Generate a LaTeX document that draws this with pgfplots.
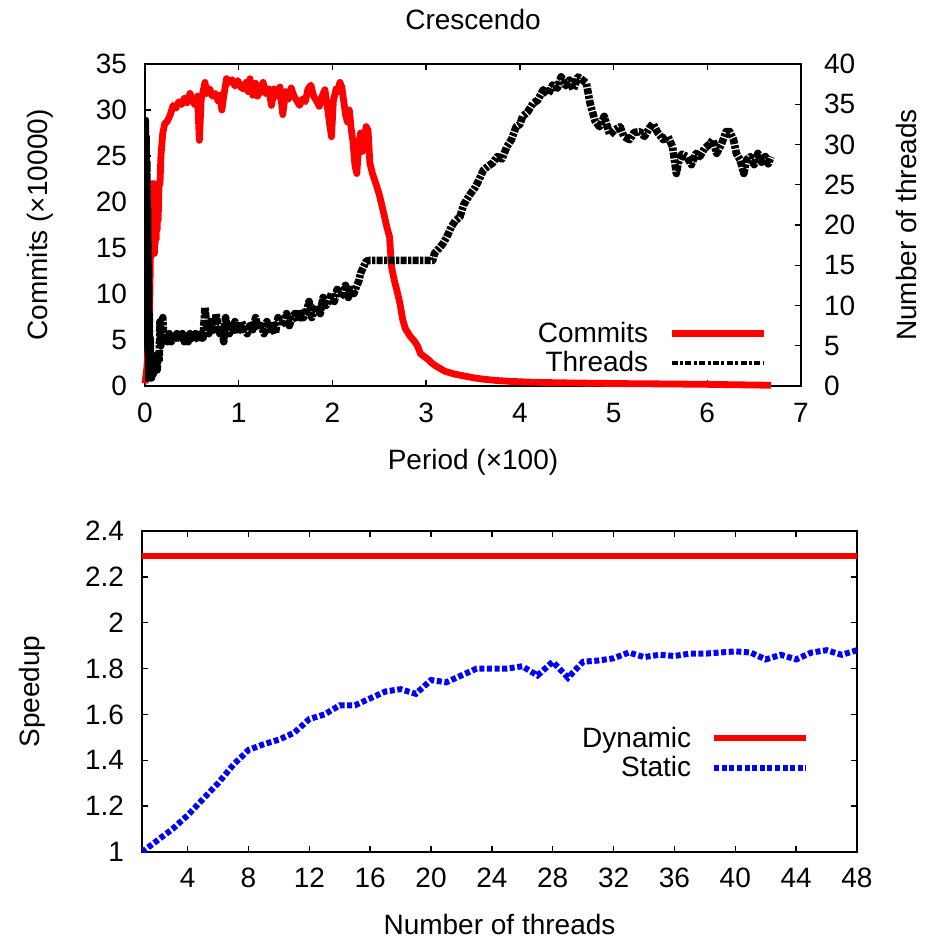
\documentclass[border=0pt]{standalone}
\usepackage{fontspec}
\setmainfont{Liberation Sans}
\usepackage{pgfplots}
\pgfplotsset{compat=1.18}

\pgfplotstableread{
x y
0.00 0.3
0.02 2
0.04 5
0.05 8.5
0.06 16
0.065 21.5
0.07 15
0.075 22
0.08 14.5
0.085 21.8
0.09 15
0.095 22
0.10 14.4
0.105 21.5
0.11 15.5
0.115 21.8
0.12 16
0.125 21.5
0.13 17
0.135 21.8
0.14 18
0.15 21.8
0.16 22
0.17 25
0.19 27.5
0.21 28.5
0.24 28.8
0.27 29.5
0.30 30.5
0.33 30.2
0.36 30.9
0.39 30.6
0.42 31.3
0.45 30.8
0.48 31.8
0.50 31.2
0.53 30.6
0.56 31.5
0.58 26.7
0.60 31.2
0.62 32.0
0.64 33.0
0.66 31.8
0.69 32.3
0.72 31.5
0.75 31.8
0.78 31.0
0.80 31.6
0.82 30.0
0.84 31.5
0.87 33.4
0.90 33.0
0.93 33.3
0.96 32.6
0.99 33.2
1.02 32.5
1.05 32.3
1.08 33.0
1.10 32.0
1.12 33.4
1.15 31.6
1.18 32.9
1.20 31.5
1.23 32.0
1.26 33.0
1.29 31.8
1.32 32.3
1.35 30.5
1.38 32.3
1.41 31.5
1.44 32.5
1.47 29.5
1.50 32.0
1.53 31.2
1.56 32.4
1.59 31.5
1.62 31.0
1.65 30.5
1.68 31.2
1.71 30.9
1.74 32.3
1.77 32.7
1.80 31.5
1.83 31.0
1.86 30.4
1.89 31.5
1.92 32.2
1.95 30.0
1.97 28.5
1.99 27.1
2.01 31.0
2.04 32.3
2.06 32.0
2.08 33.0
2.10 32.5
2.12 31.0
2.14 29.5
2.16 28.7
2.18 30.0
2.20 28.0
2.22 26.5
2.24 24.0
2.26 23.1
2.28 26.0
2.30 27.5
2.32 25.5
2.34 27.0
2.36 28.2
2.38 27.8
2.40 24.2
2.43 23.0
2.47 21.8
2.50 20.8
2.54 19.1
2.58 17.3
2.61 16.2
2.63 13.0
2.66 11.5
2.69 10.3
2.72 9.0
2.75 7.2
2.78 6.2
2.83 5.4
2.88 4.8
2.91 4.3
2.94 3.5
2.98 3.2
3.02 2.9
3.06 2.5
3.10 2.2
3.15 1.9
3.20 1.6
3.25 1.45
3.30 1.3
3.40 1.1
3.50 0.9
3.60 0.75
3.75 0.6
3.90 0.5
4.10 0.42
4.40 0.35
4.80 0.3
5.20 0.25
5.60 0.22
6.00 0.18
6.40 0.12
6.68 0.08
}\commits

\pgfplotstableread{
x y
0.000 2
0.004 33
0.008 3
0.012 31
0.016 1
0.020 28
0.024 4
0.028 22
0.032 1
0.036 15
0.040 3
0.045 9
0.050 1
0.055 6
0.060 2
0.065 4
0.070 1
0.080 3
0.090 1.5
0.100 3
0.110 2
0.120 3.5
0.130 2
0.140 4
0.150 3
0.160 8
0.170 5
0.180 7
0.190 8.5
0.200 6
0.22 6
0.24 5.5
0.26 6.5
0.28 5.5
0.30 6
0.32 5.5
0.34 6.5
0.36 5.5
0.38 6
0.40 6.5
0.42 5.5
0.44 6
0.46 5.5
0.48 6.5
0.50 6
0.52 5.5
0.54 6.5
0.56 6
0.58 5.5
0.60 6.5
0.62 6
0.64 9.8
0.66 7
0.68 6.5
0.70 8
0.72 7
0.74 6.5
0.76 9
0.78 7
0.80 6.5
0.82 7.5
0.84 5.5
0.86 8.5
0.88 7
0.90 6.5
0.92 7.5
0.94 7
0.96 8
0.98 6.5
1.00 7
1.03 8
1.06 7
1.09 6.5
1.12 7.5
1.15 7
1.18 8.5
1.21 7
1.24 7.5
1.27 6.5
1.30 8
1.33 7
1.36 7.5
1.39 6.5
1.42 8.5
1.45 7.5
1.48 8
1.51 9
1.54 7.5
1.57 8.5
1.60 9
1.63 8
1.66 9.5
1.69 8.5
1.72 9
1.75 10.5
1.78 8.5
1.81 9.5
1.84 10
1.87 9
1.90 11
1.93 10
1.96 10.5
1.99 11.5
2.02 10.5
2.05 12
2.08 11
2.11 11.5
2.14 12.5
2.17 11
2.20 12
2.23 11.5
2.26 12.5
2.28 13
2.30 14
2.32 14.5
2.34 15
2.36 15.5
2.40 15.6
2.60 15.6
2.80 15.6
3.07 15.6
3.09 16.5
3.13 17
3.18 17.7
3.22 18.5
3.27 19.8
3.31 20.5
3.36 21
3.40 22.5
3.43 23.1
3.48 24
3.52 24.6
3.56 25.5
3.61 26.8
3.66 27.3
3.71 27.7
3.76 28.5
3.81 28.2
3.86 29.7
3.91 30.6
3.96 32.2
4.00 32.5
4.03 33.5
4.08 34
4.14 35.1
4.19 35.5
4.25 36.8
4.30 36.2
4.35 37.4
4.40 37
4.44 38.4
4.49 37.3
4.53 38
4.57 36.8
4.62 38.4
4.67 38
4.71 37.6
4.75 35.1
4.80 33.0
4.85 32.2
4.90 33.5
4.96 31.2
5.01 31.8
5.07 32.2
5.11 31
5.17 30.6
5.22 31.5
5.28 31.6
5.33 31
5.38 32
5.42 32.6
5.47 31.5
5.53 30.6
5.58 31
5.63 29.7
5.67 26.4
5.69 27.7
5.73 28.8
5.78 28.5
5.83 27.5
5.88 28.9
5.92 28.5
5.97 29.5
6.03 30.1
6.06 30.6
6.10 28.9
6.15 30
6.20 31.6
6.24 31.6
6.28 30.6
6.31 28.9
6.35 28.1
6.39 26.4
6.42 28.1
6.46 28.5
6.50 27.5
6.54 28.9
6.58 27.8
6.62 28.5
6.65 27.6
6.68 28.5
}\threads

\pgfplotstableread{
x y
1 1.00
2 1.05
3 1.10
4 1.16
5 1.23
6 1.30
7 1.38
8 1.445
9 1.47
10 1.49
11 1.52
12 1.58
13 1.60
14 1.64
15 1.64
16 1.67
17 1.70
18 1.71
19 1.69
20 1.75
21 1.74
22 1.77
23 1.80
24 1.80
25 1.80
26 1.81
27 1.77
28 1.83
29 1.76
30 1.83
31 1.835
32 1.845
33 1.87
34 1.85
35 1.86
36 1.855
37 1.865
38 1.865
39 1.87
40 1.875
41 1.87
42 1.84
43 1.86
44 1.84
45 1.87
46 1.88
47 1.86
48 1.88
}\static

\begin{document}
\begin{tikzpicture}
\pgfplotsset{
  every axis/.append style={
    scale only axis,
    font=\fontsize{14}{16}\selectfont,
    /pgf/number format/assume math mode=true,
    tick align=inside,
    major tick length=3pt,
    axis line style={line width=0.9pt},
    every tick/.style={line width=0.7pt, black},
    legend plot pos=right,
    legend cell align=right,
    legend image code/.code={\draw[#1] (0pt,0pt) -- (46pt,0pt);},
    xticklabel shift=5pt,
    yticklabel shift=5.5pt,
  }
}
\path[use as bounding box] (0,0) rectangle (467pt,469.5pt);

% top left axis
\begin{axis}[at={(72.5pt,276.5pt)}, anchor=south west,
  width=328pt, height=161pt,
  xmin=0, xmax=7, ymin=0, ymax=35,
  xtick={0,...,7}, ytick={0,5,...,35},
  ytick pos=left, xtick pos=both,
  xlabel={Period (×100)}, ylabel={Commits (×10000)},
  xlabel shift=6.5pt, ylabel shift=14.5pt,
  title={Crescendo}, title style={yshift=7.5pt},
  clip=false]
\addplot[red, line width=3.4pt, line join=round] table {\commits};
\end{axis}

% top right axis
\begin{axis}[at={(72.5pt,276.5pt)}, anchor=south west,
  width=328pt, height=161pt,
  xmin=0, xmax=7, ymin=0, ymax=40,
  axis x line=none, axis y line*=right,
  ytick={0,5,...,40},
  yticklabel shift=8pt,
  ylabel={Number of threads}, ylabel shift=13.5pt,
  legend style={at={(rel axis cs:0.958,0.01)}, anchor=south east, draw=none, fill=none, row sep=-1pt, column sep=8pt}]
\addlegendimage{red, line width=3.4pt}
\addlegendentry{Commits}
\addlegendimage{black, line width=2pt, dash pattern=on 3pt off 1.2pt on 1.5pt off 1.2pt}
\addlegendentry{Threads}
\addplot[forget plot, black, line width=3.8pt, line join=round, dash pattern=on 3pt off 0.7pt on 1.6pt off 0.7pt] table {\threads};
\end{axis}

% bottom axis
\begin{axis}[at={(71pt,43.5pt)}, anchor=south west,
  width=357.5pt, height=160.5pt,
  xmin=1, xmax=48, ymin=1, ymax=2.4,
  xtick={4,8,...,48},
  ytick={1,1.2,1.4,1.6,1.8,2,2.2,2.4},
  yticklabels={1,1.2,1.4,1.6,1.8,2,2.2,2.4},
  xtick pos=both, ytick pos=both,
  xticklabel shift=4.5pt,
  xlabel={Number of threads}, ylabel={Speedup},
  xlabel shift=6.5pt, ylabel shift=13pt,
  legend style={at={(rel axis cs:0.942,0.2)}, anchor=south east, draw=none, fill=none, row sep=-1pt, column sep=8pt}]
\addplot[red, line width=3pt] coordinates {(1,2.29) (48,2.29)};
\addlegendentry{Dynamic}
\addplot[blue, line width=3pt, dash pattern=on 2.5pt off 1.3pt] table {\static};
\addlegendentry{Static}
\end{axis}
\end{tikzpicture}
\end{document}
